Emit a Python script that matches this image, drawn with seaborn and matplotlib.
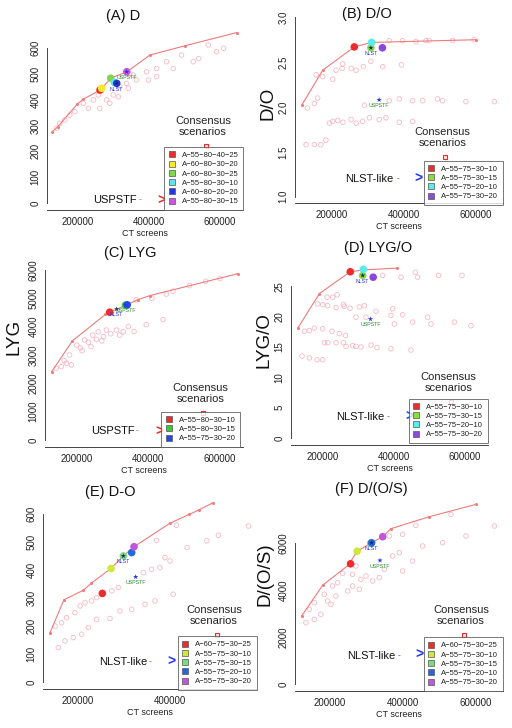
import numpy as np
import pandas as pd
import matplotlib
matplotlib.use("Agg")
import matplotlib.pyplot as plt
import seaborn as sns
from matplotlib.lines import Line2D

sns.set_theme(style="white")
plt.rcParams["font.family"] = ["Liberation Sans", "DejaVu Sans"]

# ---------------- DATA ----------------
# Panel A : D
a_cloud_x = [567000, 590000, 492000, 525000, 450000, 469000, 394000, 422000, 399000, 357000, 366000, 347000,
             319000, 338000, 301000, 315000, 291000, 259000, 245000, 231000, 217000, 193000, 179000, 165000,
             151000, 142000, 343000, 263000, 282000, 422000, 540000, 610000]
a_cloud_y = [613, 587, 574, 548, 548, 522, 509, 490, 477, 496, 477, 500,
             451, 464, 419, 412, 387, 419, 400, 367, 387, 354, 341, 322,
             309, 290, 445, 367, 400, 522, 560, 600]
a_front_x = [130000, 145000, 200000, 216000, 264000, 294000, 339000, 404000, 502000, 647000]
a_front_y = [277, 295, 384, 402, 438, 484, 509, 574, 610, 661]
a_labels = ["A-55-80-40-25", "A-60-80-30-20", "A-60-80-30-25", "A-55-80-30-10", "A-60-80-20-20", "A-55-80-30-15"]
a_cons_x = [263700, 268400, 293700, 303800, 310500, 338600]
a_cons_y = [438, 445, 484, 468, 464, 509]
a_nlst = (310500, 464)
a_uspstf = (338600, 509)
a_cons_sq = (560000, 222)

# Panel B : D/O
b_cloud_x = [359000, 396000, 433000, 461000, 470000, 535000, 595000,
             174000, 202000, 211000, 228000, 230000, 253000, 267000, 287000, 308000, 341000, 393000, 156000,
             290000, 359000, 387000, 424000, 452000, 493000, 507000, 572000, 651000, 132000, 151000, 160000,
             193000, 202000, 216000, 230000, 253000, 267000, 285000, 304000, 331000, 350000, 387000, 424000,
             128000, 151000, 169000, 183000]
b_cloud_y = [2.74, 2.74, 2.73, 2.74, 2.74, 2.74, 2.75,
             2.34, 2.31, 2.41, 2.43, 2.48, 2.43, 2.41, 2.45, 2.51, 2.45, 2.47, 2.36,
             2.02, 2.07, 2.09, 2.07, 2.07, 2.09, 2.07, 2.06, 2.06, 1.99, 2.04, 2.10,
             1.82, 1.84, 1.85, 1.83, 1.86, 1.82, 1.84, 1.88, 1.86, 1.88, 1.83, 1.84,
             1.58, 1.58, 1.58, 1.63]
b_front_x = [116000, 174000, 262000, 310000, 600000]
b_front_y = [2.02, 2.41, 2.67, 2.72, 2.75]
b_labels = ["A-55-75-30-10", "A-55-75-30-15", "A-55-75-20-10", "A-55-75-30-20"]
b_cons_x = [262000, 308000, 310000, 340000]
b_cons_y = [2.67, 2.66, 2.72, 2.66]
b_nlst = (308000, 2.66)
b_uspstf = (331000, 2.08)
b_cons_sq = (514000, 1.446)

# Panel C : LYG
c_cloud_x = [143000, 157000, 171000, 185000, 200000, 210000, 222000, 233000, 245000, 255000, 260000, 275000,
             283000, 295000, 311000, 320000, 330000, 344000, 360000, 394000, 441000, 366000, 410000, 450000,
             469000, 515000, 560000, 600000, 180000, 165000, 215000, 240000, 270000]
c_cloud_y = [2530, 2590, 2710, 2650, 3350, 3250, 3530, 3450, 3700, 3550, 3820, 3650,
             3880, 3750, 3880, 3700, 3820, 4000, 3830, 4070, 4250, 4950, 5000, 5150,
             5250, 5450, 5600, 5700, 3000, 2800, 3150, 3300, 3500]
c_front_x = [130000, 188000, 280000, 292000, 340000, 370000, 405000, 650000]
c_front_y = [2410, 3500, 4430, 4510, 4770, 4950, 5100, 5870]
c_labels = ["A-55-80-30-10", "A-55-80-30-15", "A-55-75-30-20"]
c_cons_x = [292000, 336000, 341000]
c_cons_y = [4510, 4760, 4770]
c_nlst = (311700, 4620)
c_uspstf = (336000, 4760)
c_cons_sq = (553000, 953)

# Panel D : LYG/O
d_cloud_x = [369400, 421200, 461600, 468200, 527500, 593400,
             185900, 200000, 212200, 214100, 228200, 240500, 237600, 258400, 261200, 277200, 303500, 317600,
             350600, 397600, 294100, 322400, 392900, 425900, 496500, 402400, 454100, 505900, 571800, 618800,
             148200, 162400, 176500, 200000, 226400, 247100, 264000,
             204700, 214100, 237600, 258400, 265900, 284700, 294100, 308200, 336500, 353400, 392900, 449400,
             141600, 162400, 184000, 200000]
d_cloud_y = [26.8, 26.5, 27.3, 26.5, 26.8, 26.8,
             22.1, 22.0, 23.2, 21.8, 23.2, 23.6, 21.5, 22.0, 21.7, 21.4, 21.6, 21.8,
             20.9, 21.3, 19.9, 19.9, 20.2, 20.3, 19.9, 18.8, 19.1, 18.8, 19.1, 18.5,
             17.6, 17.7, 18.1, 18.0, 17.6, 17.2, 16.9,
             15.7, 15.7, 15.7, 15.7, 15.1, 15.2, 15.1, 15.0, 15.3, 14.9, 14.7, 14.5,
             13.5, 13.2, 12.9, 12.9]
d_front_x = [129400, 190600, 278000, 314800, 410000]
d_front_y = [18.1, 23.8, 27.4, 27.7, 28.0]
d_labels = ["A-55-75-30-10", "A-55-75-30-15", "A-55-75-20-10", "A-55-75-30-20"]
d_cons_x = [278000, 313000, 314800, 342600]
d_cons_y = [27.4, 26.8, 27.8, 26.5]
d_nlst = (313000, 26.8)
d_uspstf = (335000, 19.6)
d_cons_sq = (563000, 6.0)

# Panel E : D-O
e_cloud_x = [414000, 505000, 480000, 437000, 371000, 570000,
             389000, 400000, 378000, 360000, 342000, 288000, 274000, 241000, 230000, 216000, 205000, 194000,
             176000, 165000, 151000,
             158000, 172500, 190600, 208700, 223000, 241000, 270000, 291600, 317000, 345800, 367500, 407000]
e_cloud_y = [561, 525, 505, 481, 507, 558,
             445, 433, 409, 403, 391, 338, 326, 302, 290, 284, 272, 248,
             230, 212, 200,
             123, 147, 159, 171, 195, 224, 227, 254, 260, 278, 290, 314]
e_front_x = [140000, 170000, 212000, 229000, 272000, 299000, 322000, 400000, 442000, 463000, 494000]
e_front_y = [176, 294, 328, 353, 406, 451, 484, 568, 600, 616, 642]
e_labels = ["A-60-75-30-25", "A-55-75-30-10", "A-55-75-30-15", "A-55-75-20-10", "A-55-75-30-20"]
e_cons_x = [253400, 272200, 298900, 317000, 322000]
e_cons_y = [317, 406, 451, 463, 484]
e_nlst = (298900, 451)
e_uspstf = (325600, 376)
e_cons_sq = (501000, 167)

# Panel F : D/(O/S)
f_cloud_x = [650000, 572700, 531800, 509000, 454500, 436000, 400000, 427000, 400000, 391000, 372700, 363600,
             300000, 272700, 263600, 236400, 222700, 209000, 263600, 281800, 250000, 218000, 195500, 186400,
             159000, 145500, 159000, 136400, 177000, 204500, 286000, 318000, 336400, 350000]
f_cloud_y = [6707, 6283, 7200, 6000, 5860, 6735, 6354, 5224, 4800, 5577, 5436, 6283,
             4589, 5013, 4660, 4702, 4307, 4165, 4165, 4024, 3953, 3742, 3530, 3812,
             3459, 3177, 2753, 2612, 2965, 3389, 4448, 4377, 4518, 4871]
f_front_x = [124500, 181800, 252000, 276000, 315400, 345600, 368000, 472700, 600000]
f_front_y = [2894, 4194, 5050, 5640, 5996, 6254, 6594, 7102, 7625]
f_labels = ["A-60-75-30-25", "A-55-75-30-10", "A-55-75-30-15", "A-55-75-20-10", "A-55-75-30-20"]
f_cons_x = [258000, 276000, 313000, 315400, 345600]
f_cons_y = [5106, 5640, 5975, 5996, 6254]
f_nlst = (315400, 5996)
f_uspstf = (338200, 5250)
f_cons_sq = (566500, 2076)

# ---------------- STYLE ----------------
RED = "#ee2c2c"
pal_a = ["#ee2c2c", "#f6ea2a", "#7fd84a", "#5fe3ef", "#2436dc", "#cc55dd"]
pal_b = ["#ee2c2c", "#8ade36", "#58ecec", "#8a48dc"]
pal_c = ["#ee2c2c", "#36cc36", "#2446ee"]
pal_e = ["#ee2c2c", "#cfe83c", "#7cdc7c", "#2468dc", "#c058de"]

W, H = 512, 728
fig = plt.figure(figsize=(W / 100, H / 100), dpi=100)


def make_ax(box, xt, yt):
    l, t, r, b = box
    ax = fig.add_axes([l / W, 1 - b / H, (r - l) / W, (b - t) / H])
    ax.patch.set_alpha(0)
    xv1, xp1, xv2, xp2 = xt
    sx = (xp2 - xp1) / (xv2 - xv1)
    ax.set_xlim(xv1 + (l - xp1) / sx, xv1 + (r - xp1) / sx)
    yv1, yp1, yv2, yp2 = yt
    sy = (yp2 - yp1) / (yv2 - yv1)
    ax.set_ylim(yv1 + (b - yp1) / sy, yv1 + (t - yp1) / sy)
    return ax


def panel(box, xt, yt, xticks, yticks, yfmt, cloud_x, cloud_y, front_x, front_y,
          labels, cons_x, cons_y, pal, nlst, uspstf, cons_sq, cons_txt, arrow_txt,
          arrow_color, arrow_xy, legend_anchor):
    ax = make_ax(box, xt, yt)
    # cloud of scenarios
    sns.scatterplot(x=cloud_x, y=cloud_y, ax=ax, s=11, facecolor="none",
                    edgecolor="#f3a3b4", linewidth=0.6, alpha=0.75, zorder=2)
    # efficient frontier
    sns.lineplot(x=front_x, y=front_y, ax=ax, sort=False, estimator=None,
                 color="#ef7b7b", lw=0.8, marker="o", markersize=2.2,
                 markeredgewidth=0, zorder=3)
    # consensus scenarios
    df = pd.DataFrame({"x": cons_x, "y": cons_y, "scenario": labels})
    sns.scatterplot(data=df, x="x", y="y", hue="scenario", hue_order=labels,
                    palette=dict(zip(labels, pal)), s=30, edgecolor="none",
                    legend=False, ax=ax, zorder=4)
    # NLST and USPSTF stars
    sns.scatterplot(x=[nlst[0]], y=[nlst[1]], ax=ax, marker="*", s=16,
                    color="#1c2a7a", edgecolor="none", zorder=5)
    sns.scatterplot(x=[uspstf[0]], y=[uspstf[1]], ax=ax, marker="*", s=16,
                    color="#2838e0", edgecolor="none", zorder=5)
    ax.annotate("NLST", nlst, xytext=(0, -4.2), textcoords="offset points",
                ha="center", va="center", fontsize=3.8, color="#2a3ae0", zorder=6)
    ax.annotate("USPSTF", uspstf, xytext=(0, -4.2), textcoords="offset points",
                ha="center", va="center", fontsize=3.8, color="#2e8b2e", zorder=6)
    # consensus marker & text
    ax.scatter([cons_sq[0]], [cons_sq[1]], marker="s", s=11, facecolor="#fbe3e3",
               edgecolor=RED, linewidth=0.8, zorder=5)
    ax.annotate(cons_txt, cons_sq, xytext=(-2, 14), textcoords="offset points",
                ha="center", va="center", fontsize=8, color="#222", linespacing=1.15)
    # arrow text
    ax.annotate(arrow_txt, arrow_xy[0], ha="right", va="center", fontsize=8, color="#111")
    ax.annotate("-", arrow_xy[1], ha="center", va="center", fontsize=6, color=arrow_color)
    ax.annotate(">", arrow_xy[2], ha="center", va="center", fontsize=10,
                fontweight="bold", color=arrow_color)
    # axes styling
    for s in ["top", "right"]:
        ax.spines[s].set_visible(False)
    for s in ["left", "bottom"]:
        ax.spines[s].set_color("#444")
        ax.spines[s].set_linewidth(0.7)
    ax.set_xticks(xticks)
    ax.set_xticklabels([str(v) for v in xticks])
    ax.set_yticks(yticks)
    ax.set_yticklabels([yfmt.format(v) for v in yticks], rotation=90, va="center")
    ax.spines["left"].set_bounds(yticks[0], yticks[-1])
    ax.tick_params(axis="both", direction="out", length=3, width=0.6, colors="#333",
                   labelsize=7, labelcolor="#222")
    ax.tick_params(axis="x", pad=2)
    ax.tick_params(axis="y", pad=1.8)
    ax.set_xlabel("CT screens", fontsize=6.5, color="#222", labelpad=1.5)
    ax.set_ylabel("")
    ax.grid(False)
    # legend
    handles = [Line2D([], [], ls="", marker="s", markersize=4, markerfacecolor=c,
                      markeredgecolor="#555", markeredgewidth=0.5) for c in pal]
    leg = ax.legend(handles, labels, loc="lower right",
                    bbox_to_anchor=(legend_anchor[0] / W, 1 - legend_anchor[1] / H),
                    bbox_transform=fig.transFigure, fontsize=5.5, frameon=True,
                    fancybox=False, edgecolor="#555", borderpad=0.6, labelspacing=0.25,
                    handlelength=0.8, handletextpad=0.9, borderaxespad=0)
    leg.get_frame().set_linewidth(0.7)
    leg.set_zorder(7)
    for t in leg.get_texts():
        t.set_text(t.get_text().replace("-", "\u2212"))
        t.set_color("#222")
    return ax


# Panel A
panel((47, 28, 243, 210), (200000, 77.3, 600000, 220), (0, 203, 600, 48.3),
      [200000, 400000, 600000], [0, 100, 200, 300, 400, 500, 600], "{:d}",
      a_cloud_x, a_cloud_y, a_front_x, a_front_y, a_labels, a_cons_x, a_cons_y, pal_a,
      a_nlst, a_uspstf, a_cons_sq, "Consensus\nscenarios", "USPSTF", RED,
      [(366000, 12), (375000, 12), (436000, 8)], (243, 210))

# Panel B
panel((295, 10, 503, 203), (200000, 332, 600000, 476), (1.0, 196.7, 3.0, 17.3),
      [200000, 400000, 600000], [1.0, 1.5, 2.0, 2.5, 3.0], "{:.1f}",
      b_cloud_x, b_cloud_y, b_front_x, b_front_y, b_labels, b_cons_x, b_cons_y, pal_b,
      b_nlst, b_uspstf, b_cons_sq, "Consensus\nscenarios", "NLST-like", "#2438e8",
      [(370000, 1.20), (382000, 1.20), (440000, 1.20)], (503, 205))

# Panel C
panel((45, 262, 243, 447), (200000, 76.7, 600000, 220), (0, 440, 6000, 270),
      [200000, 400000, 600000], [0, 1000, 2000, 3000, 4000, 5000, 6000], "{:d}",
      c_cloud_x, c_cloud_y, c_front_x, c_front_y, c_labels, c_cons_x, c_cons_y, pal_c,
      c_nlst, c_uspstf, c_cons_sq, "Consensus\nscenarios", "USPSTF", RED,
      [(362000, 330), (369000, 330), (430000, 300)], (240, 447))

# Panel D
panel((291, 255, 488, 445), (200000, 322.7, 600000, 464.3), (0, 438, 25, 286.3),
      [200000, 400000, 600000], [0, 5, 10, 15, 20, 25], "{:d}",
      d_cloud_x, d_cloud_y, d_front_x, d_front_y, d_labels, d_cons_x, d_cons_y, pal_b,
      d_nlst, d_uspstf, d_cons_sq, "Consensus\nscenarios", "NLST-like", "#2438e8",
      [(374000, 3.46), (383600, 3.46), (444700, 3.46)], (488, 443))

# Panel E
panel((43, 500, 256, 689), (200000, 77.7, 400000, 170), (0, 682, 600, 514.3),
      [200000, 400000], [0, 100, 200, 300, 400, 500, 600], "{:d}",
      e_cloud_x, e_cloud_y, e_front_x, e_front_y, e_labels, e_cons_x, e_cons_y, pal_e,
      e_nlst, e_uspstf, e_cons_sq, "Consensus\nscenarios", "NLST-like", "#2438e8",
      [(351700, 72), (356700, 72), (403700, 72)], (257, 690))

# Panel F
panel((295, 495, 503, 691), (200000, 329.3, 600000, 476), (0, 684.3, 6000, 542.7),
      [200000, 400000, 600000], [0, 2000, 4000, 6000], "{:d}",
      f_cloud_x, f_cloud_y, f_front_x, f_front_y, f_labels, f_cons_x, f_cons_y, pal_e,
      f_nlst, f_uspstf, f_cons_sq, "Consensus\nscenarios", "NLST-like", "#2438e8",
      [(380000, 1199), (389200, 1199), (445400, 1228)], (503, 691))

# titles
titles = ["(A) D", "(B) D/O", "(C) LYG", "(D) LYG/O", "(E) D-O", "(F) D/(O/S)"]
title_pos = [(122.7, 16), (366.5, 14), (130, 253), (377.7, 248), (110, 492), (371, 489)]
for t, (x, y) in zip(titles, title_pos):
    fig.text(x / W, 1 - y / H, t, ha="center", va="center", fontsize=10.5, color="#111")

# y-axis labels
ylabels = ["D/O", "LYG", "LYG/O", "D/(O/S)"]
ylabel_pos = [(267.5, 103.3), (14, 337), (264.3, 339.7), (265.3, 574)]
for t, (x, y) in zip(ylabels, ylabel_pos):
    fig.text(x / W, 1 - y / H, t, ha="center", va="center", rotation=90,
             fontsize=13.5, color="#111")

fig.savefig("out.png", dpi=100)
